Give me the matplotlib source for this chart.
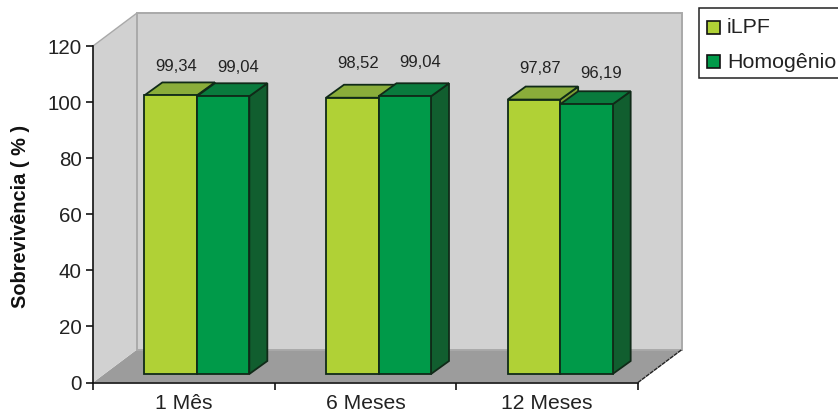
import matplotlib
matplotlib.use("Agg")
import matplotlib.pyplot as plt
from matplotlib.patches import Polygon, Rectangle

plt.rcParams["font.family"] = ["Liberation Sans", "DejaVu Sans"]

categories = ["1 Mês", "6 Meses", "12 Meses"]
series_names = ["iLPF", "Homogênio"]
ilpf = [99.34, 98.52, 97.87]
homogenio = [99.04, 99.04, 96.19]
y_ticks = [0, 20, 40, 60, 80, 100, 120]

# face colours of each column: front, top, side
ILPF_FACES = ("#B0D136", "#8AAD3A", "#7F9E34")
HOMO_FACES = ("#009A49", "#097B3D", "#115E2F")
WALL = "#D1D1D1"
FLOOR = "#9C9C9C"
WALL_EDGE = "#A9A9A9"

W, H = 838, 415
LEFT, RIGHT, BASE, TOP = 93, 638, 382.5, 46
fig = plt.figure(figsize=(W / 100, H / 100), dpi=100, facecolor="white")
ax = fig.add_axes([LEFT / W, (H - BASE) / H, (RIGHT - LEFT) / W, (BASE - TOP) / H])
ax.set_xlim(0, 3)
ax.set_ylim(0, 120)
ax.patch.set_visible(False)

# data units per pixel, used for the oblique projection
ux = 3 / (RIGHT - LEFT)
uy = 120 / (BASE - TOP)
wall_dx, wall_dy = 44 * ux, 33 * uy
bar_front_dx, bar_front_dy = 13 * ux, 8.5 * uy
bar_dx, bar_dy = 18 * ux, 13 * uy
bar_w = 52.5 * ux


def poly(points, face, edge="none", lw=0.0, z=1):
    ax.add_patch(Polygon(points, closed=True, facecolor=face, edgecolor=edge,
                         linewidth=lw, clip_on=False, zorder=z, joinstyle="miter"))


# floor and the two walls of the oblique box
poly([(0, 0), (3, 0), (3 + wall_dx, wall_dy), (wall_dx, wall_dy)], FLOOR)
poly([(0, 0), (wall_dx, wall_dy), (wall_dx, 120 + wall_dy), (0, 120)], WALL)
poly([(wall_dx, wall_dy), (3 + wall_dx, wall_dy), (3 + wall_dx, 120 + wall_dy),
      (wall_dx, 120 + wall_dy)], WALL, edge=WALL_EDGE, lw=1.4)
ax.plot([0, wall_dx], [120, 120 + wall_dy], color=WALL_EDGE, lw=1.0, clip_on=False, zorder=1.5)
ax.plot([3, 3 + wall_dx], [0, wall_dy], color="#222222", lw=1.0, ls=(0, (3, 0.6)),
        clip_on=False, zorder=1.5)


def column(x0, value, faces, z):
    x = x0 + bar_front_dx
    y0 = bar_front_dy
    y1 = value + bar_front_dy
    edge = dict(edge="#102A18", lw=1.3, z=z)
    poly([(x + bar_w, y0), (x + bar_w + bar_dx, y0 + bar_dy),
          (x + bar_w + bar_dx, y1 + bar_dy), (x + bar_w, y1)], faces[2], **edge)
    poly([(x, y1), (x + bar_w, y1), (x + bar_w + bar_dx, y1 + bar_dy),
          (x + bar_dx, y1 + bar_dy)], faces[1], **edge)
    poly([(x, y0), (x + bar_w, y0), (x + bar_w, y1), (x, y1)], faces[0], **edge)


# value labels float over the back edge of each column top
label_shift_x = (6, 15)
label_gap_px = (16, 21, 18)
for i in range(len(categories)):
    c = i + 0.5
    column(c - bar_w, ilpf[i], ILPF_FACES, 3 + i)
    column(c, homogenio[i], HOMO_FACES, 3.5 + i)
    for j, (val, start) in enumerate(((ilpf[i], c - bar_w), (homogenio[i], c))):
        x_lab = start + bar_front_dx + bar_w / 2 + label_shift_x[j] * ux
        y_lab = val + bar_front_dy + bar_dy + label_gap_px[i] * uy
        ax.text(x_lab, y_lab, f"{val:.2f}".replace(".", ","), ha="center", va="center",
                fontsize=12, color="#222222", clip_on=False, zorder=10)

# axes lines, ticks and labels
for side in ("top", "right"):
    ax.spines[side].set_visible(False)
for side in ("left", "bottom"):
    ax.spines[side].set_linewidth(1.2)
    ax.spines[side].set_color("#111111")
    ax.spines[side].set_zorder(20)
ax.set_yticks(y_ticks)
ax.set_xticks([0, 1, 2, 3])
ax.set_xticklabels([])
ax.set_xticks([0.5, 1.5, 2.5], labels=categories, minor=True)
ax.tick_params(axis="x", which="minor", length=0, pad=8.5, labelsize=15.2, labelcolor="#222222")
ax.tick_params(axis="x", which="major", length=5, width=1.1)
ax.tick_params(axis="y", length=5, width=1.1, pad=3, labelsize=14.8, labelcolor="#222222")
fig.text(20 / W, 1 - 216 / H, "Sobrevivência ( % )", rotation=90, ha="center", va="center",
         fontsize=14.4, fontweight="bold", color="#111111")

# legend box, running off the right edge of the figure
fig.add_artist(Rectangle((698.5 / W, 1 - 78 / H), 150 / W, 70 / H, transform=fig.transFigure,
                         facecolor="white", edgecolor="#222222", linewidth=1.1))
for name, faces, y_mid in zip(series_names, (ILPF_FACES, HOMO_FACES), (27.5, 62)):
    fig.add_artist(Rectangle((707 / W, 1 - (y_mid + 6.5) / H), 13 / W, 13 / H,
                             transform=fig.transFigure, facecolor=faces[0],
                             edgecolor="#111111", linewidth=1.2))
    fig.text(727 / W, 1 - y_mid / H, name, ha="left", va="center", fontsize=15.4, color="#222222")

fig.savefig("out.png", dpi=100, facecolor="white")
